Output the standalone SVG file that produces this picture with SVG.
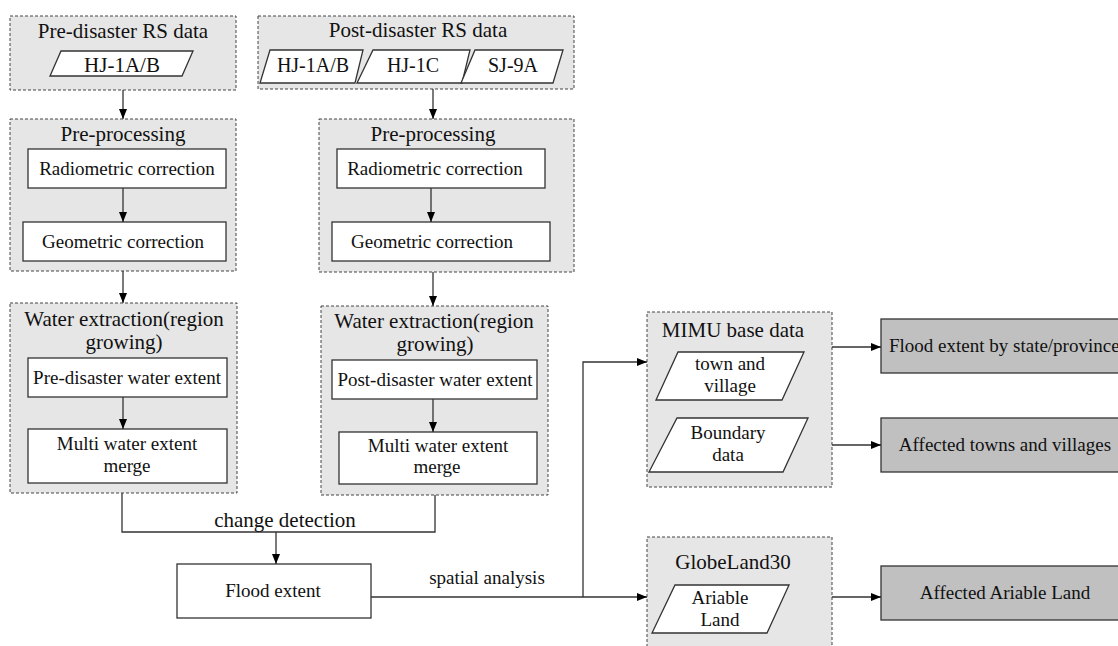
<svg xmlns="http://www.w3.org/2000/svg" width="1118" height="646" viewBox="0 0 1118 646">
<style>
.grp{fill:#e6e6e6;stroke:#444;stroke-width:1;stroke-dasharray:3 2}
.box{fill:#fff;stroke:#333;stroke-width:1.3}
.out{fill:#c0c0c0;stroke:#333;stroke-width:1.3}
.t21{font-family:"Liberation Serif",serif;font-size:21px;fill:#111;text-anchor:middle}
.t20{font-family:"Liberation Serif",serif;font-size:20px;fill:#111;text-anchor:middle}
.t19{font-family:"Liberation Serif",serif;font-size:19px;fill:#111;text-anchor:middle}
.conn{fill:none;stroke:#333;stroke-width:1.3}
</style>
<defs>
<marker id="ah" markerWidth="10" markerHeight="8" refX="10" refY="4" orient="auto" markerUnits="userSpaceOnUse"><path d="M0,0 L10,4 L0,8 z" fill="#000"/></marker>
</defs>

<g id="pre-rs">
<rect class="grp" x="10" y="16" width="226" height="74"/>
<text class="t21" x="123" y="38">Pre-disaster RS data</text>
<polygon class="box" points="61,51 193,51 182,76 50,76"/>
<text class="t21" x="122" y="72">HJ-1A/B</text>
</g>

<g id="post-rs">
<rect class="grp" x="258" y="16" width="316" height="73"/>
<text class="t21" x="418" y="37">Post-disaster RS data</text>
<polygon class="box" points="270,50 363,50 355,83 260,83"/>
<text class="t20" x="313" y="72">HJ-1A/B</text>
<polygon class="box" points="373,50 470,50 462,83 357,83"/>
<text class="t20" x="413" y="72">HJ-1C</text>
<polygon class="box" points="475,50 563,50 553,83 461,83"/>
<text class="t20" x="513" y="72">SJ-9A</text>
</g>

<g id="pre-proc-left">
<rect class="grp" x="10" y="119" width="226" height="152"/>
<text class="t21" x="123" y="141">Pre-processing</text>
<rect class="box" x="28" y="149" width="198" height="39"/>
<text class="t19" x="127" y="175">Radiometric correction</text>
<rect class="box" x="23" y="222" width="203" height="39"/>
<text class="t19" x="123" y="248">Geometric correction</text>
</g>

<g id="pre-proc-right">
<rect class="grp" x="319" y="119" width="255" height="153"/>
<text class="t21" x="433" y="141">Pre-processing</text>
<rect class="box" x="337" y="149" width="208" height="39"/>
<text class="t19" x="435" y="175">Radiometric correction</text>
<rect class="box" x="332" y="222" width="218" height="39"/>
<text class="t19" x="432" y="248">Geometric correction</text>
</g>

<g id="water-left">
<rect class="grp" x="10" y="303" width="227" height="190"/>
<text class="t21" x="124" y="326">Water extraction(region</text>
<text class="t21" x="124" y="349">growing)</text>
<rect class="box" x="28" y="358" width="199" height="39"/>
<text class="t19" x="127" y="384">Pre-disaster water extent</text>
<rect class="box" x="28" y="429" width="199" height="54"/>
<text class="t19" x="127" y="450">Multi water extent</text>
<text class="t19" x="127" y="472">merge</text>
</g>

<g id="water-right">
<rect class="grp" x="321" y="306" width="227" height="189"/>
<text class="t21" x="434" y="328">Water extraction(region</text>
<text class="t21" x="435" y="351">growing)</text>
<rect class="box" x="332" y="360" width="205" height="39"/>
<text class="t19" x="435" y="386">Post-disaster water extent</text>
<rect class="box" x="339" y="432" width="198" height="52"/>
<text class="t19" x="438" y="452">Multi water extent</text>
<text class="t19" x="437" y="473">merge</text>
</g>

<g id="flood-extent">
<rect class="box" x="177" y="564" width="194" height="54"/>
<text class="t19" x="273" y="597">Flood extent</text>
</g>

<g id="mimu">
<rect class="grp" x="647" y="312" width="185" height="175"/>
<text class="t21" x="733" y="337">MIMU base data</text>
<polygon class="box" points="678,352 804,352 782,400 656,400"/>
<text class="t19" x="730" y="370">town and</text>
<text class="t19" x="730" y="392">village</text>
<polygon class="box" points="677,418 808,418 783,472 649,472"/>
<text class="t19" x="728" y="439">Boundary</text>
<text class="t19" x="728" y="461">data</text>
</g>

<g id="globeland">
<rect class="grp" x="647" y="537" width="185" height="120"/>
<text class="t21" x="733" y="569">GlobeLand30</text>
<polygon class="box" points="675,585 789,585 767,633 652,633"/>
<text class="t19" x="720" y="604">Ariable</text>
<text class="t19" x="720" y="626">Land</text>
</g>

<g id="out-state">
<rect class="out" x="881" y="319" width="250" height="54"/>
<text class="t19" x="889" y="352" style="text-anchor:start">Flood extent by state/province</text>
</g>

<g id="out-towns">
<rect class="out" x="881" y="418" width="250" height="54"/>
<text class="t19" x="1005" y="451">Affected towns and villages</text>
</g>

<g id="out-land">
<rect class="out" x="881" y="566" width="250" height="54"/>
<text class="t19" x="1005" y="599">Affected Ariable Land</text>
</g>

<g id="connectors">
<line class="conn" x1="123" y1="90" x2="123" y2="119" marker-end="url(#ah)"/>
<line class="conn" x1="123" y1="188" x2="123" y2="222" marker-end="url(#ah)"/>
<line class="conn" x1="123" y1="271" x2="123" y2="303" marker-end="url(#ah)"/>
<line class="conn" x1="123" y1="397" x2="123" y2="429" marker-end="url(#ah)"/>
<line class="conn" x1="433" y1="89" x2="433" y2="119" marker-end="url(#ah)"/>
<line class="conn" x1="431" y1="188" x2="431" y2="222" marker-end="url(#ah)"/>
<line class="conn" x1="433" y1="272" x2="433" y2="306" marker-end="url(#ah)"/>
<line class="conn" x1="433" y1="399" x2="433" y2="432" marker-end="url(#ah)"/>
<polyline class="conn" points="122,493 122,532 435,532 435,495"/>
<line class="conn" x1="276" y1="532" x2="276" y2="564" marker-end="url(#ah)"/>
<text class="t21" x="285" y="527">change detection</text>
<line class="conn" x1="371" y1="597" x2="647" y2="597" marker-end="url(#ah)"/>
<polyline class="conn" points="583,597 583,362 647,362" marker-end="url(#ah)"/>
<text class="t19" x="487" y="584">spatial analysis</text>
<line class="conn" x1="832" y1="347" x2="881" y2="347" marker-end="url(#ah)"/>
<line class="conn" x1="832" y1="445" x2="881" y2="445" marker-end="url(#ah)"/>
<line class="conn" x1="832" y1="597" x2="881" y2="597" marker-end="url(#ah)"/>
</g>
</svg>
